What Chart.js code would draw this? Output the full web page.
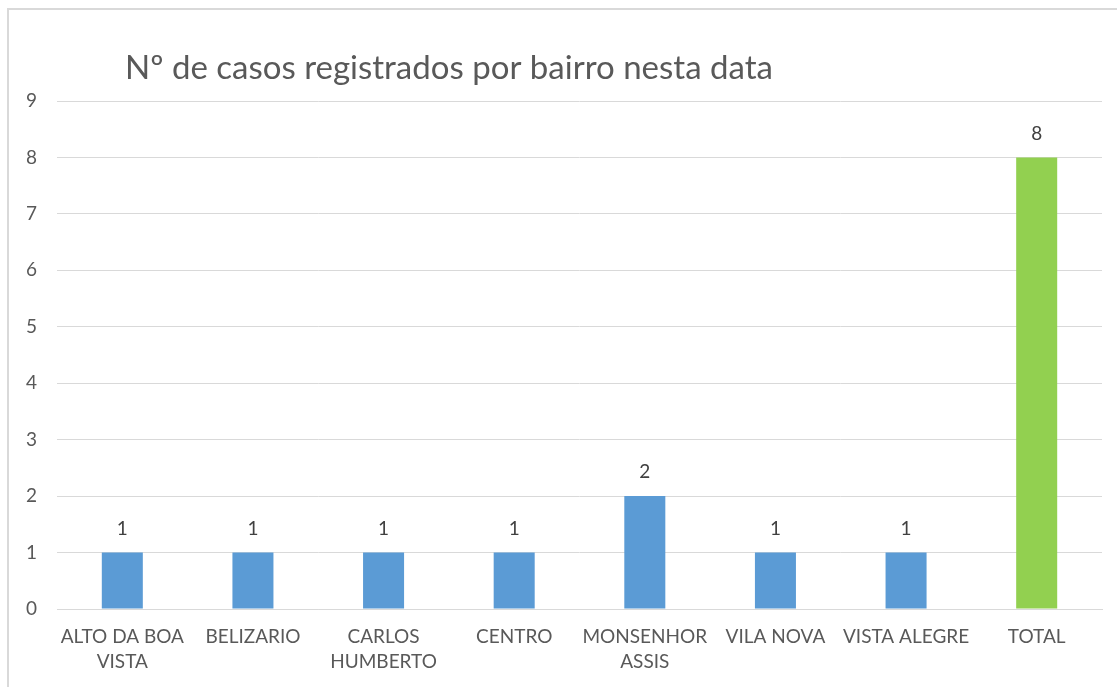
<!DOCTYPE html>
<html>
<head>
<meta charset="utf-8">
<script src="https://cdn.jsdelivr.net/npm/chart.js@4.4.0/dist/chart.umd.min.js"></script>
<style>
  html, body { margin: 0; padding: 0; background: #fff; }
  #wrap { position: relative; width: 1117px; height: 687px; }
  #frame { position: absolute; left: 7px; top: 8px; right: -5px; bottom: -5px;
           border-left: 2px solid #d9d9d9; border-top: 2px solid #d9d9d9; }
  canvas { position: absolute; left: 0; top: 0; }
</style>
</head>
<body>
<div id="wrap">
  <div id="frame"></div>
  <canvas id="casosChart" width="1117" height="687"></canvas>
</div>
<script>
// Dados do gráfico
const bairros = [
    ['ALTO DA BOA', 'VISTA'], 'BELIZARIO', ['CARLOS', 'HUMBERTO'], 'CENTRO',
    ['MONSENHOR', 'ASSIS'], 'VILA NOVA', 'VISTA ALEGRE', 'TOTAL'
];
const casos = [1, 1, 1, 1, 2, 1, 1, 8];
const coresBarras = ['#5b9bd5', '#5b9bd5', '#5b9bd5', '#5b9bd5', '#5b9bd5', '#5b9bd5', '#5b9bd5', '#92d050'];
const tituloGrafico = 'Nº de casos registrados por bairro nesta data';
const yMin = 0;
const yMax = 9;

const fonte = 'Lato, "Open Sans", sans-serif';
const corTexto = '#595959';

// Plugin simples para título e rótulos de valor
const rotulosPlugin = {
    id: 'rotulos',
    afterDatasetsDraw(chart) {
        const ctx = chart.ctx;
        const meta = chart.getDatasetMeta(0);
        ctx.save();
        ctx.font = '19px ' + fonte;
        ctx.fillStyle = '#404040';
        ctx.textAlign = 'center';
        ctx.textBaseline = 'middle';
        meta.data.forEach((bar, i) => {
            ctx.fillText(casos[i], bar.x, bar.y - 24);
        });
        // título
        ctx.font = '33px ' + fonte;
        ctx.fillStyle = corTexto;
        ctx.textAlign = 'left';
        ctx.textBaseline = 'middle';
        ctx.fillText(tituloGrafico, 125, 68);
        ctx.restore();
    }
};

const ctx = document.getElementById('casosChart').getContext('2d');
new Chart(ctx, {
    type: 'bar',
    data: {
        labels: bairros,
        datasets: [{
            data: casos,
            backgroundColor: coresBarras,
            borderWidth: 0,
            barPercentage: 0.314,
            categoryPercentage: 1.0
        }]
    },
    options: {
        responsive: false,
        animation: false,
        layout: { padding: { top: 101, right: 15, left: 0, bottom: 0 } },
        plugins: {
            legend: { display: false },
            tooltip: { enabled: false },
            title: { display: false }
        },
        scales: {
            x: {
                grid: { display: false, drawTicks: false },
                border: { display: true, color: '#d9d9d9', width: 1 },
                ticks: {
                    color: corTexto,
                    font: { family: fonte, size: 19, lineHeight: 1.3 },
                    maxRotation: 0,
                    autoSkip: false,
                    padding: 16
                },
                afterFit(scale) { scale.height = 78; }
            },
            y: {
                min: yMin,
                max: yMax,
                grid: { color: '#d9d9d9', lineWidth: 1, drawTicks: false },
                border: { display: false },
                ticks: {
                    stepSize: 1,
                    color: corTexto,
                    font: { family: fonte, size: 19 },
                    padding: 20
                },
                afterFit(scale) { scale.width = 57; }
            }
        }
    },
    plugins: [rotulosPlugin]
});
</script>
</body>
</html>
